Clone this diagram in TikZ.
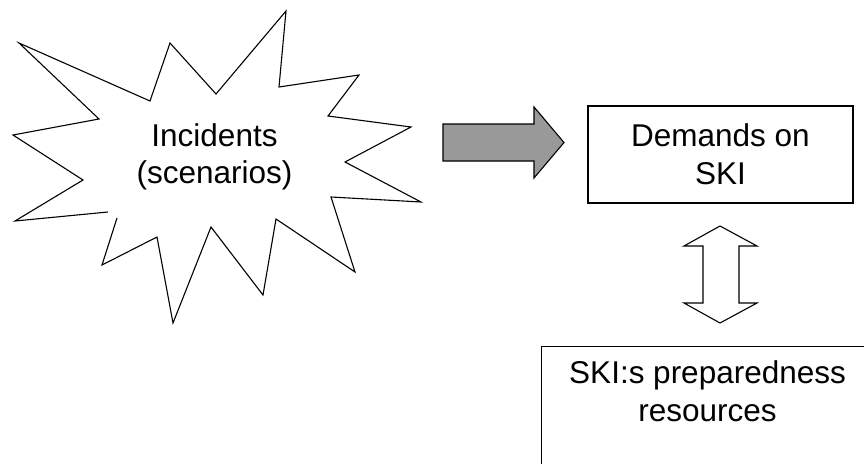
\documentclass[tikz,border=0pt]{standalone}
\usepackage{fontspec}
\setmainfont{Liberation Sans}
\tikzset{%
	outline/.style={
		draw=black,
		line width=1.1pt,
		line join=miter
	},
	ski box/.style={
		outline,
		rectangle,
		align=center,
		inner sep=0pt,
		font=\fontsize{31.5}{38}\selectfont
	},
	burst text/.style={
		align=center,
		inner sep=0pt,
		font=\fontsize{31.5}{37.5}\selectfont
	},
}

\begin{document}
\begin{tikzpicture}[x=1pt,y=-1pt]
		\clip (0,0) rectangle (864,463);
		% Incident burst
		\draw[outline] (108,212) -- (15,221) -- (83,180) -- (13,135) -- (99,119)
		-- (19,43) -- (150,101) -- (170,43) -- (216,94) -- (286,11) -- (279,87)
		-- (359,75) -- (328,116) -- (411,127) -- (345,162) -- (421,202)
		-- (331,197) -- (355,272) -- (276,219) -- (263,295) -- (211,227)
		-- (173,323) -- (157,237) -- (102,265) -- (117,218);
		\node[burst text] (incidents) at (214.5,157) {Incidents\\(scenarios)};
		
		% Boxes
		\node[ski box, minimum width=265pt, minimum height=97pt] (demands) at (720.5,154.5) {Demands on\\SKI};
		\node[ski box, anchor=north west, minimum width=332pt, inner ysep=14pt, text depth=110pt] (resources) at (541,346) {SKI:s preparedness\\resources};
		
		% Arrows
		\draw[outline, fill=black!40] (443,124) -- (534,124) -- (534,107) -- (564,142.5)
		-- (534,178) -- (534,161) -- (443,161) -- cycle;
		\draw[outline, fill=white] (720,226) -- (757,246) -- (739,246) -- (739,303) -- (757,303)
		-- (720,323) -- (684,303) -- (703,303) -- (703,246) -- (684,246) -- cycle;
		
\end{tikzpicture}
\end{document}
